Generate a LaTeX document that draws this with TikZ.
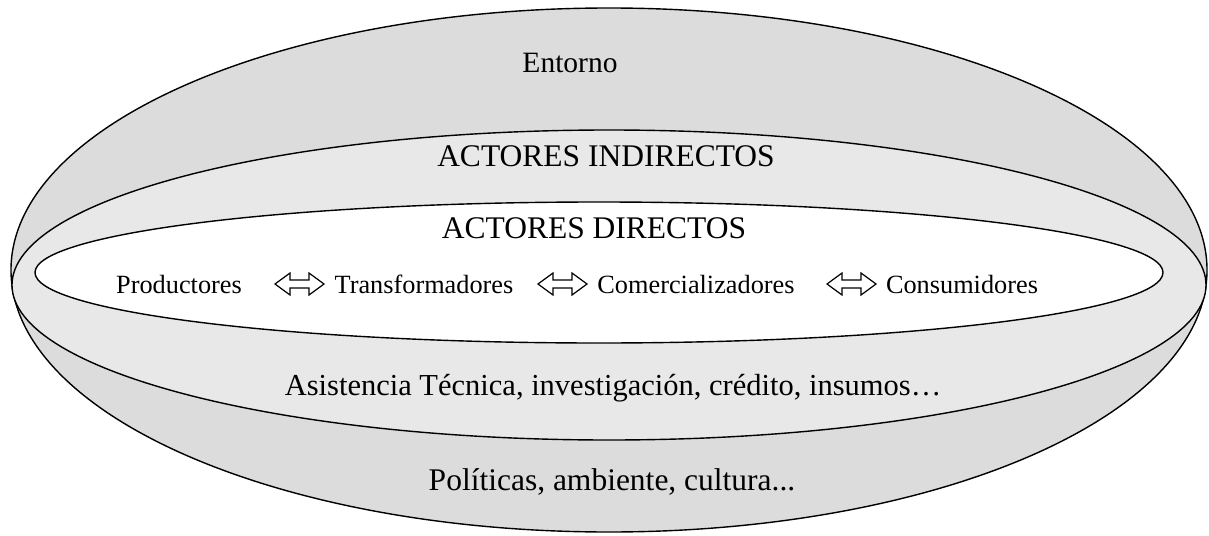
\documentclass[tikz,border=0pt]{standalone}
\usepackage{fontspec}
\setmainfont{Liberation Serif}
\tikzset{
  ring/.style={draw=black, line width=1.4pt},
  bigtxt/.style={font=\fontsize{31.5}{36}\selectfont, anchor=base, inner sep=0pt},
  smalltxt/.style={font=\fontsize{26.3}{30}\selectfont, anchor=base, inner sep=0pt},
  dblarrow/.style={draw=black, fill=white, line width=1.2pt, line join=miter}
}
\newcommand{\dblarrowpath}{(-24.5,0) -- (-9.5,-11) -- (-9.5,-4) -- (9.5,-4) -- (9.5,-11) -- (24.5,0) -- (9.5,11) -- (9.5,4) -- (-9.5,4) -- (-9.5,11) -- cycle}
\begin{document}
\begin{tikzpicture}[x=1pt,y=-1pt]
\useasboundingbox (0,0) rectangle (1209,535);
\fill[white] (0,0) rectangle (1209,535);
% ellipses
\draw[ring, fill={rgb,255:red,220;green,220;blue,220}] (609,270) ellipse [x radius=598, y radius=262];
\draw[ring, fill={rgb,255:red,232;green,232;blue,232}] (609,285) ellipse [x radius=597, y radius=155];
\draw[ring, fill=white] (599,272.5) ellipse [x radius=564, y radius=70.5];
% texts
\node[bigtxt, font=\fontsize{29.5}{34}\selectfont] (entorno) at (570,72) {Entorno};
\node[bigtxt] (ind) at (606,166) {ACTORES INDIRECTOS};
\node[bigtxt] (dir) at (594,238) {ACTORES DIRECTOS};
\node[smalltxt] (prod) at (179,293) {Productores};
\node[smalltxt] (trans) at (424,293) {Transformadores};
\node[smalltxt] (com) at (696,293) {Comercializadores};
\node[smalltxt] (cons) at (962,293) {Consumidores};
\node[bigtxt, font=\fontsize{30.5}{35}\selectfont] (asis) at (613,395) {Asistencia Técnica, investigación, crédito, insumos…};
\node[bigtxt] (pol) at (612,490) {Políticas, ambiente, cultura...};
% arrows
\coordinate (a1) at (299.5,284);
\coordinate (a2) at (562.5,284);
\coordinate (a3) at (851.5,284);
\draw[dblarrow, shift={(a1)}] \dblarrowpath;
\draw[dblarrow, shift={(a2)}] \dblarrowpath;
\draw[dblarrow, shift={(a3)}] \dblarrowpath;
\end{tikzpicture}
\end{document}
